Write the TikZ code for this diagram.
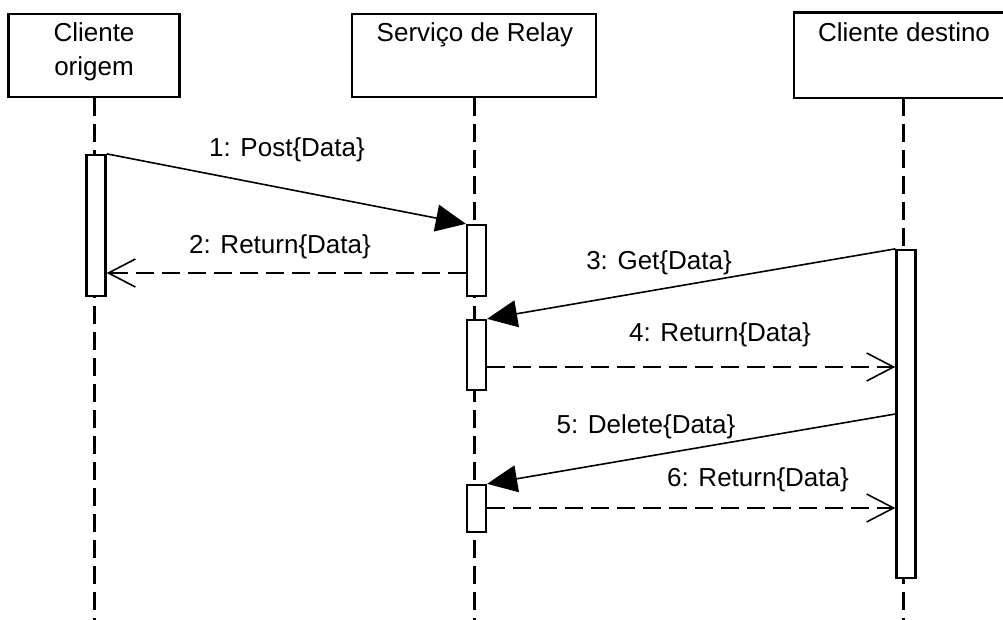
\documentclass[tikz,border=0pt]{standalone}
\usepackage{fontspec}
\setmainfont{Liberation Sans}
\usetikzlibrary{arrows.meta}

\begin{document}
\begin{tikzpicture}[x=1pt,y=-1pt,
  head/.style={draw, line width=2.5pt, fill=white, inner sep=0pt, minimum height=83pt},
  txt/.style={inner sep=0pt, font=\fontsize{26}{30}\selectfont},
  lifeline/.style={line width=3pt, dash pattern=on 18pt off 8pt},
  act/.style={draw, line width=2.3pt, fill=white, inner sep=0pt, minimum width=19pt},
  call/.style={line width=1.6pt, -{Triangle[length=30pt,width=27pt]}},
  reply/.style={line width=1.6pt, dash pattern=on 18pt off 8pt,
    -{Straight Barb[length=27pt,width=28pt,line width=1.6pt]}}]

\useasboundingbox (0,0) rectangle (1003,620);

% participant heads; the right one is open towards the page edge
\node[head, minimum width=171pt] (h1) at (94,55.5) {};
\node[head, minimum width=244pt] (h2) at (474,55.5) {};
\node[head, draw=none, minimum width=216pt] (h3) at (903,55.5) {};
\coordinate (edge) at (1003,0);
\draw[line width=2.5pt] (edge |- h3.north) -- (h3.north west) -- (h3.south west) -- (edge |- h3.south);

\node[txt, anchor=base] (t1a) at (94,42) {Cliente};
\node[txt, anchor=base] (t1b) at (94,76) {origem};
\node[txt, anchor=base] (t2) at (475,42) {Serviço de Relay};
\node[txt, anchor=base] (t3) at (904,42) {Cliente destino};

% lifelines
\coordinate (bottom) at (0,620);
\draw[lifeline] (h1.south) -- (h1.south |- bottom);
\draw[lifeline] (h2.south) -- (h2.south |- bottom);
\draw[lifeline] (h3.south) -- (h3.south |- bottom);

% activation bars
\node[act, minimum height=141pt] (a1) at (96,225.5) {};
\node[act, minimum height=71pt]  (a2) at (476.5,260.5) {};
\node[act, minimum height=70pt]  (a3) at (476.5,355) {};
\node[act, minimum height=47pt]  (a4) at (476.5,508.5) {};
\node[act, minimum height=328pt] (a5) at (906,414) {};

% message heights
\coordinate (y2) at (0,273);
\coordinate (y4) at (0,367);
\coordinate (y5) at (0,414);
\coordinate (y6) at (0,508);

% messages
\draw[call]  (a1.north east) -- (a2.north west);
\draw[reply] (a2.west |- y2) -- (a1.east |- y2);
\draw[call]  (a5.north west) -- (a3.north east);
\draw[reply] (a3.east |- y4) -- (a5.west |- y4);
\draw[call]  (a5.west |- y5) -- (a4.north east);
\draw[reply] (a4.east |- y6) -- (a5.west |- y6);

% message labels
\node[txt] (l1) at (287,150) {1: Post\{Data\}};
\node[txt] (l2) at (280,247) {2: Return\{Data\}};
\node[txt] (l3) at (659,263) {3: Get\{Data\}};
\node[txt] (l4) at (720,335) {4: Return\{Data\}};
\node[txt] (l5) at (646,427) {5: Delete\{Data\}};
\node[txt] (l6) at (758,480) {6: Return\{Data\}};
\end{tikzpicture}
\end{document}
